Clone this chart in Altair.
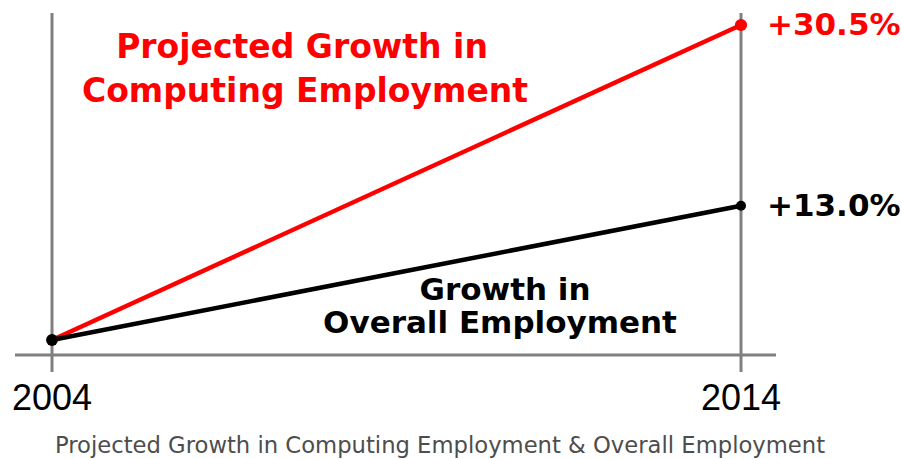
import altair as alt
import pandas as pd

years = [2004, 2014]
computing = [0.0, 30.5]
overall = [0.0, 13.0]
end_labels = ["+30.5%", "+13.0%"]
tick_labels = ["2004", "2014"]
red_title_lines = ["Projected Growth in", "Computing Employment"]
black_title_lines = ["Growth in", "Overall Employment"]
caption = "Projected Growth in Computing Employment & Overall Employment"

RED = "#ff0000"
BLACK = "#000000"
GRAY = "#808080"

xs = alt.Scale(domain=[2004, 2014], range=[52, 741])
ys = alt.Scale(domain=[0, 30.5], range=[340, 25])

comp_df = pd.DataFrame({"year": years, "value": computing})
over_df = pd.DataFrame({"year": years, "value": overall})
ends_df = pd.DataFrame({"year": [years[1], years[1]],
                        "value": [computing[1], overall[1]],
                        "label": end_labels,
                        "series": ["Computing", "Overall"]})
ticks_df = pd.DataFrame({"year": years, "label": tick_labels})
one = pd.DataFrame({"k": [0]})

X = alt.X("year:Q", scale=xs, axis=None)
Y = alt.Y("value:Q", scale=ys, axis=None)

vrules = alt.Chart(ticks_df).mark_rule(color=GRAY, strokeWidth=3).encode(
    x=alt.X("year:Q", scale=xs, axis=None), y=alt.value(13), y2=alt.value(372))
hrule = alt.Chart(one).mark_rule(color=GRAY, strokeWidth=3).encode(
    x=alt.value(15), x2=alt.value(776), y=alt.value(355))

red_line = alt.Chart(comp_df).mark_line(color=RED, strokeWidth=4.5).encode(x=X, y=Y)
black_line = alt.Chart(over_df).mark_line(color=BLACK, strokeWidth=4.5).encode(x=X, y=Y)

red_end = alt.Chart(comp_df.iloc[[1]]).mark_circle(color=RED, size=150, opacity=1).encode(x=X, y=Y)
black_start = alt.Chart(over_df.iloc[[0]]).mark_circle(color=BLACK, size=140, opacity=1).encode(x=X, y=Y)
black_end = alt.Chart(over_df.iloc[[1]]).mark_circle(color=BLACK, size=100, opacity=1).encode(x=X, y=Y)

end_text = alt.Chart(ends_df).mark_text(
    align="left", baseline="alphabetic", dx=26, dy=10,
    font="DejaVu Sans", fontWeight="bold", fontSize=31).encode(
    x=X, y=Y, text="label:N",
    color=alt.Color("series:N", scale=alt.Scale(domain=["Computing", "Overall"], range=[RED, BLACK]), legend=None))

tick_text = alt.Chart(ticks_df).mark_text(
    align="center", baseline="alphabetic", font="Liberation Sans", fontSize=36, color=BLACK).encode(
    x=alt.X("year:Q", scale=xs, axis=None), y=alt.value(410), text="label:N")


def title_line(txt, x, y, size, color):
    return alt.Chart(one).mark_text(
        align="center", baseline="alphabetic", font="DejaVu Sans", fontWeight="bold",
        fontSize=size, color=color).encode(
        x=alt.value(x), y=alt.value(y), text=alt.value(txt))


red_t1 = title_line(red_title_lines[0], 302, 58, 33, RED)
red_t2 = title_line(red_title_lines[1], 305, 102, 33, RED)
blk_t1 = title_line(black_title_lines[0], 505, 300, 31, BLACK)
blk_t2 = title_line(black_title_lines[1], 500, 333, 31, BLACK)

cap_text = alt.Chart(one).mark_text(
    align="center", baseline="alphabetic", font="DejaVu Sans", fontSize=22.7, color="#4d4d4d").encode(
    x=alt.value(440), y=alt.value(453), text=alt.value(caption))

chart = alt.layer(
    vrules, hrule, red_line, black_line, red_end, black_start, black_end,
    end_text, tick_text, red_t1, red_t2, blk_t1, blk_t2, cap_text
).properties(
    width=902, height=459, padding=0, autosize=alt.AutoSizeParams(type="none"),
    background="white"
).configure_view(strokeWidth=0)

chart.save("out.html", embed_options={"renderer": "svg", "actions": False})
